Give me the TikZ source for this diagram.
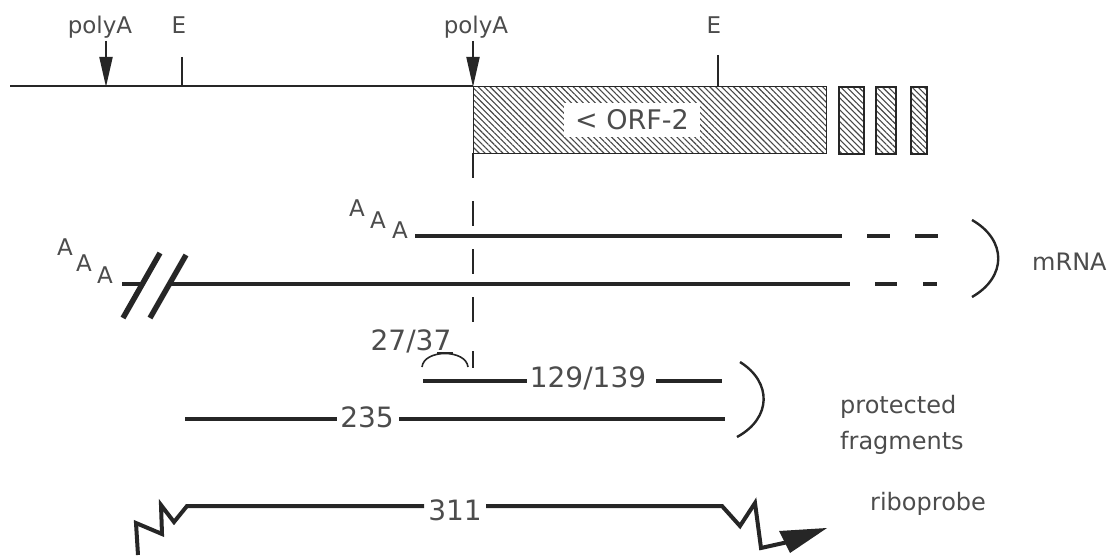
\documentclass[tikz,border=0pt]{standalone}
\usepackage{fontspec}
\setmainfont{DejaVu Sans}
\usetikzlibrary{arrows.meta,patterns.meta}
\definecolor{ink}{gray}{0.15}
\definecolor{txt}{gray}{0.3}
\tikzset{
  lab/.style={text=txt, inner sep=0pt, anchor=base, font=\fontsize{23}{27}\selectfont},
  aaa/.style={text=txt, inner sep=0pt, anchor=center, font=\fontsize{23}{27}\selectfont},
  num/.style={text=txt, inner sep=0pt, anchor=base, font=\fontsize{28}{32}\selectfont},
  side/.style={text=txt, inner sep=0pt, anchor=base west, font=\fontsize{24}{28}\selectfont},
  axis/.style={draw=ink, line width=1.8pt},
  rna/.style={draw=ink, line width=4pt},
  slash/.style={draw=ink, line width=5.5pt},
  brk/.style={draw=ink, line width=2.4pt},
  parr/.style={draw=ink, line width=2pt, -{Triangle[length=30pt,width=13pt]}},
  hatchbox/.style={draw=ink, line width=1.6pt, pattern={Lines[angle=-45,distance=4.2pt,line width=1.1pt]}, pattern color=ink!85},
  vdash/.style={draw=ink, line width=2pt, dash pattern=on 25pt off 23pt},
}
\begin{document}
\begin{tikzpicture}[x=1pt,y=-1pt]
\useasboundingbox (0,0) rectangle (1119,559);

% ---------- gene map ----------
\coordinate (axL) at (10,86);
\coordinate (axR) at (473,86);
\draw[axis] (axL) -- (axR);

\node[hatchbox, minimum width=353pt, minimum height=67pt, anchor=north west, inner sep=0pt] (orf) at (473,86) {};
\node[hatchbox, minimum width=25pt, minimum height=67pt, anchor=north west, inner sep=0pt] (ex1) at (838,86) {};
\node[hatchbox, minimum width=20pt, minimum height=67pt, anchor=north west, inner sep=0pt] (ex2) at (875,86) {};
\node[hatchbox, minimum width=16pt, minimum height=67pt, anchor=north west, inner sep=0pt] (ex3) at (910,86) {};
\node[fill=white, minimum width=136pt, minimum height=34pt, inner sep=0pt, text=txt,
      font=\fontsize{27}{31}\selectfont] (orflab) at (632,120) {< ORF-2};

% labels and markers
\node[lab] (pa1) at (100,34) {polyA};
\node[lab] (e1) at (179,34) {E};
\node[lab] (pa2) at (476,34) {polyA};
\node[lab] (e2) at (714,34) {E};

\coordinate (pa1t) at (106,41);  \coordinate (pa1b) at (106,87);
\coordinate (pa2t) at (473,41);  \coordinate (pa2b) at (473,87);
\draw[parr] (pa1t) -- (pa1b);
\draw[parr] (pa2t) -- (pa2b);
\coordinate (e1t) at (182,57);  \coordinate (e1b) at (182,86);
\coordinate (e2t) at (718,55);  \coordinate (e2b) at (718,86);
\draw[axis] (e1t) -- (e1b);
\draw[axis] (e2t) -- (e2b);

% dashed vertical from polyA site
\coordinate (vd1) at (473,153);
\coordinate (vd2) at (473,340);
\draw[vdash] (vd1) -- (vd2);

% ---------- mRNAs ----------
\node[aaa] (a11) at (357,208) {A};
\node[aaa] (a12) at (378,220) {A};
\node[aaa] (a13) at (400,230) {A};
\coordinate (m1a) at (415,236); \coordinate (m1b) at (842,236);
\coordinate (m1c) at (867,236); \coordinate (m1d) at (890,236);
\coordinate (m1e) at (915,236); \coordinate (m1f) at (938,236);
\draw[rna] (m1a) -- (m1b);
\draw[rna] (m1c) -- (m1d);
\draw[rna] (m1e) -- (m1f);

\node[aaa] (a21) at (65,247) {A};
\node[aaa] (a22) at (84,263) {A};
\node[aaa] (a23) at (105,275) {A};
\coordinate (m2a) at (122,284); \coordinate (m2b) at (143,284);
\coordinate (m2c) at (170,284); \coordinate (m2d) at (850,284);
\coordinate (m2e) at (875,284); \coordinate (m2f) at (897,284);
\coordinate (m2g) at (923,284); \coordinate (m2h) at (937,284);
\draw[rna] (m2a) -- (m2b);
\draw[rna] (m2c) -- (m2d);
\draw[rna] (m2e) -- (m2f);
\draw[rna] (m2g) -- (m2h);
\coordinate (s1a) at (123,318); \coordinate (s1b) at (160,253);
\coordinate (s2a) at (150,318); \coordinate (s2b) at (186,255);
\draw[slash] (s1a) -- (s1b);
\draw[slash] (s2a) -- (s2b);

\coordinate (mb1) at (972,220); \coordinate (mb2) at (972,297);
\draw[brk] (mb1) .. controls (1007,240) and (1007,277) .. (mb2);
\node[side] (mrna) at (1032,270) {mRNA};

% ---------- protected fragments ----------
\node[num] (t27) at (411,350) {27/37};
\coordinate (ul1) at (437,353); \coordinate (ul2) at (453,353);
\draw[draw=ink, line width=1.2pt] (ul1) -- (ul2);
\coordinate (arcA) at (422,367); \coordinate (arcB) at (468,367);
\draw[draw=ink, line width=1.6pt] (arcA) .. controls (424,349) and (466,349) .. (arcB);
\coordinate (tk1) at (473,351); \coordinate (tk2) at (473,368);
\draw[draw=ink, line width=1.6pt] (tk1) -- (tk2);

\node[num] (t129) at (588,387) {129/139};
\coordinate (f1a) at (423,381); \coordinate (f1b) at (527,381);
\coordinate (f1c) at (656,381); \coordinate (f1d) at (722,381);
\draw[rna] (f1a) -- (f1b);
\draw[rna] (f1c) -- (f1d);

\node[num] (t235) at (367,427) {235};
\coordinate (f2a) at (185,419); \coordinate (f2b) at (337,419);
\coordinate (f2c) at (399,419); \coordinate (f2d) at (725,419);
\draw[rna] (f2a) -- (f2b);
\draw[rna] (f2c) -- (f2d);

\coordinate (fb1) at (740,362); \coordinate (fb2) at (737,437);
\draw[brk] (fb1) .. controls (772,382) and (772,418) .. (fb2);
\node[side] (prot) at (840,413) {protected};
\node[side] (frag) at (840,449) {fragments};

% ---------- riboprobe ----------
\node[num] (t311) at (455,520) {311};
\coordinate (r0) at (138,555);
\coordinate (r1) at (136,523);
\coordinate (r2) at (162,534);
\coordinate (r3) at (161,505);
\coordinate (r4) at (174,522);
\coordinate (r5) at (187,506);
\coordinate (r6) at (424,506);
\coordinate (r7) at (486,506);
\coordinate (r8) at (722,506);
\coordinate (r9) at (740,526);
\coordinate (r10) at (755,503);
\coordinate (r11) at (761,548);
\coordinate (r12) at (788,542);
\draw[rna, line join=miter] (r0) -- (r1) -- (r2) -- (r3) -- (r4) -- (r5) -- (r6);
\draw[rna, line join=miter] (r7) -- (r8) -- (r9) -- (r10) -- (r11) -- (r12);
\coordinate (hd1) at (779,531);
\coordinate (hd2) at (790,553);
\coordinate (tip) at (827,528);
\fill[ink] (hd1) -- (tip) -- (hd2) -- cycle;
\node[side] (ribo) at (870,510) {riboprobe};
\end{tikzpicture}
\end{document}
